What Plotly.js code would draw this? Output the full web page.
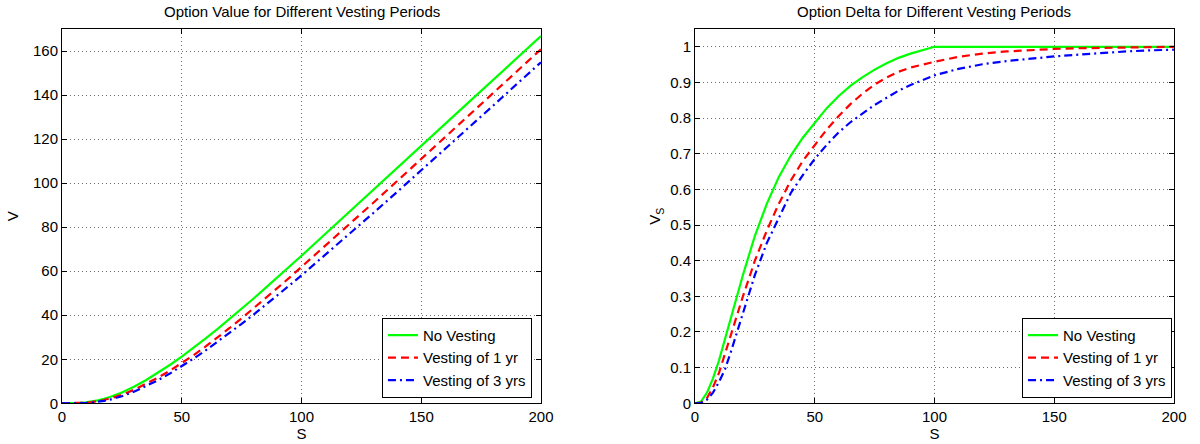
<!DOCTYPE html>
<html>
<head>
<meta charset="utf-8">
<script src="https://cdn.plot.ly/plotly-3.0.1.min.js"></script>
<style>html,body{margin:0;padding:0;background:#fff;}#chart{width:1200px;height:444px;}</style>
</head>
<body>
<div id="chart"></div>
<script>
// Stock price grid
const S = [0,2.5,5,7.5,10,12.5,15,17.5,20,25,30,35,40,45,50,55,60,65,70,75,80,85,90,95,100,110,120,130,140,150,160,170,180,190,200];

// Option value V
const valueNoVesting = [0,0.006,0.05,0.17,0.41,0.79,1.32,2.0,2.84,4.91,7.49,10.48,13.8,17.4,21.2,25.2,29.5,33.8,38.3,42.9,47.6,52.4,57.2,62.1,67.0,77.0,86.9,96.9,106.9,116.9,126.9,136.9,146.8,156.8,166.8];
const valueVest1 = [0,0.003,0.024,0.1,0.26,0.54,0.95,1.5,2.18,3.9,6.1,8.7,11.6,14.8,18.2,21.9,25.8,29.9,34.2,38.6,43.1,47.7,52.4,57.1,61.9,71.5,81.3,91.1,101.0,110.9,120.8,130.8,140.8,150.8,160.8];
const valueVest3 = [0,0.001,0.015,0.065,0.18,0.37,0.67,1.1,1.67,3.21,5.23,7.66,10.43,13.5,16.8,20.35,24.06,27.93,31.94,36.07,40.3,44.64,49.06,53.56,58.1,67.4,76.86,86.42,96.05,105.75,115.5,125.3,135.16,145.05,154.9];

// Option delta V_S
const deltaNoVesting = [0,0.005,0.03,0.07,0.12,0.18,0.245,0.305,0.36,0.47,0.56,0.635,0.695,0.745,0.787,0.828,0.862,0.891,0.915,0.936,0.954,0.969,0.981,0.991,1.0,1,1,1,1,1,1,1,1,1,1];
const deltaVest1 = [0,0.002,0.015,0.045,0.085,0.14,0.19,0.245,0.3,0.4,0.485,0.56,0.625,0.68,0.725,0.768,0.806,0.84,0.869,0.894,0.914,0.93,0.942,0.951,0.958,0.972,0.981,0.987,0.991,0.994,0.996,0.997,0.998,0.999,1.0];
const deltaVest3 = [0,0.001,0.01,0.03,0.06,0.095,0.145,0.2,0.255,0.36,0.45,0.52,0.59,0.64,0.686,0.725,0.76,0.789,0.814,0.837,0.857,0.877,0.893,0.907,0.92,0.938,0.951,0.96,0.967,0.973,0.978,0.983,0.987,0.99,0.992];

const seriesNames = ['No Vesting','Vesting of 1 yr','Vesting of 3 yrs'];
const titles = ['Option Value for Different Vesting Periods','Option Delta for Different Vesting Periods'];
const xTicks = [0,50,100,150,200];
const vTicks = [0,20,40,60,80,100,120,140,160];
const dTicks = [0,0.1,0.2,0.3,0.4,0.5,0.6,0.7,0.8,0.9,1];
const dTickText = ['0','0.1','0.2','0.3','0.4','0.5','0.6','0.7','0.8','0.9','1'];

const styles = [
  {color:'#00ff00', width:2.2, dash:'solid'},
  {color:'#ff0000', width:2.2, dash:'8px,5px'},
  {color:'#0000ff', width:2.2, dash:'8px,4px,2px,4px'}
];

const FONT = 'Liberation Sans, Arial, Helvetica, sans-serif';
const FS = 15;

const traces = [];
[valueNoVesting, valueVest1, valueVest3].forEach((y,i)=>{
  traces.push({x:S, y:y, type:'scatter', mode:'lines', name:seriesNames[i], line:styles[i], xaxis:'x', yaxis:'y', legend:'legend'});
});
[deltaNoVesting, deltaVest1, deltaVest3].forEach((y,i)=>{
  traces.push({x:S, y:y, type:'scatter', mode:'lines', name:seriesNames[i], line:styles[i], xaxis:'x2', yaxis:'y2', legend:'legend2'});
});

const axisBase = {
  showline:true, mirror:'allticks', linecolor:'#000', linewidth:1,
  ticks:'inside', ticklen:5, tickcolor:'#000', tickwidth:1,
  showgrid:true, gridcolor:'#6e6e6e', gridwidth:1, griddash:'1px,3px',
  zeroline:false, tickfont:{family:FONT, size:FS, color:'#000'},
  automargin:false
};

const legendBase = {
  bgcolor:'#fff', bordercolor:'#000', borderwidth:1,
  font:{family:FONT, size:FS, color:'#000'},
  xanchor:'right', yanchor:'bottom', y:0.104,
  tracegroupgap:0, itemwidth:30
};

const layout = {
  width:1200, height:444,
  margin:{l:0, r:0, t:0, b:0},
  paper_bgcolor:'#fff', plot_bgcolor:'#fff',
  showlegend:true,
  font:{family:FONT, size:FS, color:'#000'},
  xaxis: Object.assign({}, axisBase, {domain:[0.0517,0.4508], range:[0,200], tickvals:xTicks, anchor:'y',
    title:{text:'S', font:{family:FONT,size:FS,color:'#000'}, standoff:2}}),
  yaxis: Object.assign({}, axisBase, {domain:[0.0917,0.9347], range:[0,170], tickvals:vTicks, anchor:'x',
    title:{text:'V', font:{family:FONT,size:FS,color:'#000'}, standoff:10}}),
  xaxis2: Object.assign({}, axisBase, {domain:[0.5792,0.9783], range:[0,200], tickvals:xTicks, anchor:'y2',
    title:{text:'S', font:{family:FONT,size:FS,color:'#000'}, standoff:2}}),
  yaxis2: Object.assign({}, axisBase, {domain:[0.0917,0.9347], range:[0,1.05], tickvals:dTicks, ticktext:dTickText, anchor:'x2',
    title:{text:'V<sub>S</sub>', font:{family:FONT,size:FS,color:'#000'}, standoff:5}}),
  legend: Object.assign({}, legendBase, {x:0.4433}),
  legend2: Object.assign({}, legendBase, {x:0.9767}),
  annotations:[
    {text:titles[0], xref:'paper', yref:'paper', x:0.2513, y:(444-12)/444, xanchor:'center', yanchor:'middle', showarrow:false, font:{family:FONT,size:FS,color:'#000'}},
    {text:titles[1], xref:'paper', yref:'paper', x:0.7787, y:(444-12)/444, xanchor:'center', yanchor:'middle', showarrow:false, font:{family:FONT,size:FS,color:'#000'}}
  ]
};

Plotly.newPlot('chart', traces, layout, {displayModeBar:false, staticPlot:true});
</script>
</body>
</html>
